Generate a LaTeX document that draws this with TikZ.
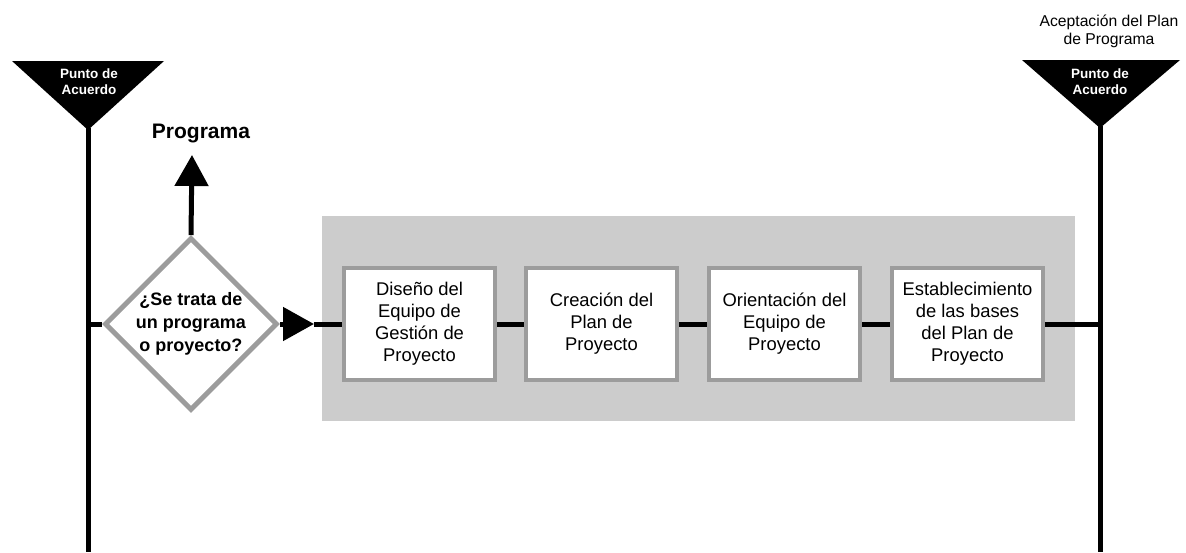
\documentclass[tikz,border=0pt]{standalone}
\usepackage{fontspec}
\setmainfont{Liberation Sans}
\usepackage{tikz}
\usetikzlibrary{arrows.meta,shapes.geometric}
\definecolor{edgegray}{HTML}{9C9C9C}
\definecolor{phasegray}{HTML}{CCCCCC}
\tikzset{
	flow/.style={line width=5pt, black},
	taskbox/.style={draw=edgegray, line width=4pt, fill=white, minimum width=151pt, minimum height=112pt, inner sep=0pt, align=center, font=\fontsize{18.4}{22}\selectfont},
	decision/.style={diamond, aspect=1, draw=edgegray, line width=5pt, fill=white, minimum width=172pt, minimum height=172pt, inner sep=0pt, align=center, font=\bfseries\fontsize{18}{23}\selectfont},
	gatetext/.style={white, align=center, inner sep=0pt, font=\bfseries\fontsize{13.5}{16}\selectfont},
	bigtip/.style={-{Triangle[width=33pt, length=31pt]}}
}
\begin{document}
\begin{tikzpicture}[x=1pt, y=-1pt]
		\useasboundingbox (0, 0) rectangle (1186, 552);
		%%%%% START %%%%%
		\fill[phasegray] (322, 216) rectangle (1075, 421);
		
		\fill[black] (12, 61) -- (164, 61) -- (88, 130) -- cycle;
		\node[gatetext] (gateL) at (89, 81.5) {Punto de\\Acuerdo};
		\coordinate (tipL) at (88, 128);
		\coordinate (botL) at (88, 552);
		
		\fill[black] (1022, 60) -- (1180, 60) -- (1100, 128) -- cycle;
		\node[gatetext] (gateR) at (1100, 81.5) {Punto de\\Acuerdo};
		\coordinate (tipR) at (1100, 126);
		\coordinate (botR) at (1100, 552);
		\node[align=center, inner sep=0pt, font=\fontsize{15.7}{18}\selectfont] (accept) at (1109, 31) {Aceptación del Plan\\de Programa};
		
		\node[decision] (q) at (191, 324) {¿Se trata de\\un programa\\o proyecto?};
		\coordinate (progtip) at (192, 155);
		\coordinate (arrR) at (314, 324);
		\node[anchor=base, inner sep=0pt, font=\bfseries\fontsize{21}{25}\selectfont] (prog) at (201, 138) {Programa};
		
		\node[taskbox] (b1) at (419.5, 324) {Diseño del\\Equipo de\\Gestión de\\Proyecto};
		\node[taskbox] (b2) at (601.5, 324) {Creación del\\Plan de\\Proyecto};
		\node[taskbox] (b3) at (784.5, 324) {Orientación del\\Equipo de\\Proyecto};
		\node[taskbox] (b4) at (967.5, 324) {Establecimiento\\de las bases\\del Plan de\\Proyecto};
		
		\draw[flow] (tipL) -- (botL);
		\draw[flow] (tipR) -- (botR);
		\draw[flow] (q.west) -- (q.west -| tipL);
		\draw[flow, bigtip] (q.north) -- (progtip);
		\draw[flow, bigtip] (q.east) -- (arrR);
		\draw[flow] (arrR) -- (b1.west);
		\draw[flow] (b1) -- (b2);
		\draw[flow] (b2) -- (b3);
		\draw[flow] (b3) -- (b4);
		\draw[flow] (b4.east) -- (b4.east -| tipR);
		%%%%% END %%%%%
	\end{tikzpicture}
\end{document}
